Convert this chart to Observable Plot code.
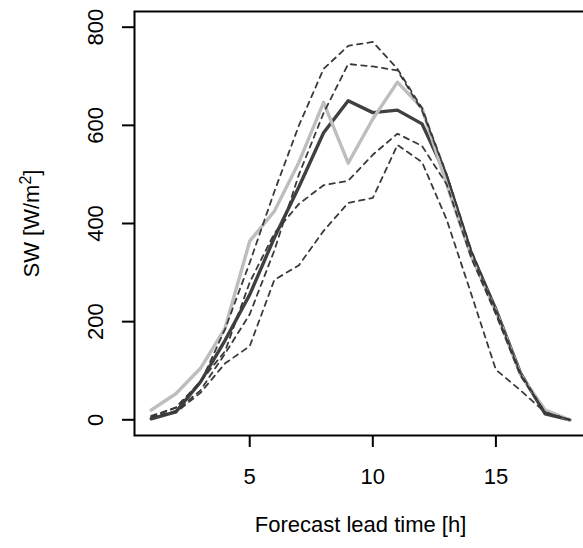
<!DOCTYPE html>
<html><head><meta charset="utf-8">
<script src="https://cdn.jsdelivr.net/npm/d3@7"></script>
<script src="https://cdn.jsdelivr.net/npm/@observablehq/plot@0.6"></script>
<style>body{margin:0;overflow:hidden;background:#fff}</style>
</head><body><div id="chart"></div>
<script>
const leadTime = [1,2,3,4,5,6,7,8,9,10,11,12,13,14,15,16,17,18];
const observed = [20,53,105,187,364,425,525,647,523,613,688,635,480,333,221,92,20,0];
const deterministic = [2,16,77,162,255,371,475,585,650,626,631,603,495,340,225,95,12,0];
const member1 = [8,25,75,185,320,465,600,715,762,770,715,635,500,345,225,95,15,0];
const member2 = [5,18,60,135,215,345,500,625,725,720,712,630,500,340,220,92,15,0];
const member3 = [5,25,78,140,280,380,440,478,487,540,583,558,480,330,215,90,15,0];
const member4 = [5,15,55,115,150,285,315,385,442,452,560,525,408,256,102,60,15,0];
const xTicks = [5,10,15];
const yTicks = [0,200,400,600,800];

const ensemble = [member1, member2, member3, member4].flatMap((m, i) =>
  m.map((v, j) => ({member: i, lead: leadTime[j], value: v})));
const detRows = deterministic.map((v, j) => ({lead: leadTime[j], value: v}));
const obsRows = observed.map((v, j) => ({lead: leadTime[j], value: v}));

const plot = Plot.plot({
  width: 583, height: 548,
  marginLeft: 134, marginRight: -3, marginTop: 11, marginBottom: 113,
  style: {fontFamily: "'Liberation Sans', Arial, sans-serif", fontSize: "22px", color: "#000", background: "#fff"},
  x: {domain: [0.32, 18.68]},
  y: {domain: [-32, 832]},
  marks: [
    Plot.axisX({ticks: xTicks, tickSize: 12, tickFormat: () => "", strokeWidth: 2, label: null}),
    Plot.axisY({ticks: yTicks, tickSize: 12, tickFormat: () => "", strokeWidth: 2, label: null}),
    Plot.text(xTicks, {x: d => d, frameAnchor: "bottom", dy: 41, textAnchor: "middle", lineAnchor: "middle", text: d => String(d), fontSize: 22, fill: "#000"}),
    Plot.text(yTicks, {y: d => d, frameAnchor: "left", dx: -39, rotate: -90, textAnchor: "middle", lineAnchor: "middle", text: d => String(d), fontSize: 22, fill: "#000"}),
    Plot.text(["Forecast lead time [h]"], {frameAnchor: "bottom", dy: 89, textAnchor: "middle", lineAnchor: "middle", text: d => d, fontSize: 22, fill: "#000"}),
    Plot.text(["SW [W/m2]"], {frameAnchor: "left", dx: -103, rotate: -90, textAnchor: "middle", lineAnchor: "middle", text: d => d, fontSize: 22, fill: "#000", className: "ytitle"}),
    Plot.line(detRows, {x: "lead", y: "value", stroke: "#404040", strokeWidth: 3.4}),
    Plot.line(obsRows, {x: "lead", y: "value", stroke: "#bebebe", strokeWidth: 3.4}),
    Plot.line(ensemble, {x: "lead", y: "value", z: "member", stroke: "#3a3a3a", strokeWidth: 1.8, strokeDasharray: "5.5,5"}),
    Plot.frame({stroke: "#000", strokeWidth: 2})
  ]
});
document.getElementById("chart").appendChild(plot);
// superscript in the y-axis title
d3.select(plot).selectAll(".ytitle text").each(function() {
  const t = d3.select(this);
  t.text(null);
  t.append("tspan").text("SW [W/m");
  t.append("tspan").attr("baseline-shift", "super").attr("font-size", 16).text("2");
  t.append("tspan").text("]");
});
</script>
</body></html>
